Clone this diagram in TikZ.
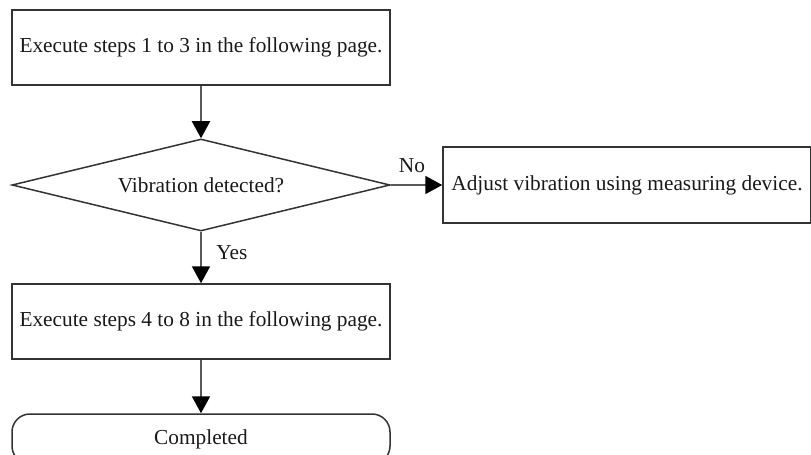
\documentclass[tikz,border=0pt]{standalone}
\usepackage{fontspec}
\setmainfont{Liberation Serif}
\usepackage{tikz}
\usetikzlibrary{shapes.geometric,arrows.meta}

\begin{document}
\begin{tikzpicture}[x=0.5pt, y=-0.5pt,
    font=\fontsize{10.66}{12.8}\selectfont, text=black!90,
    stepbox/.style={draw=black!80, line width=0.75pt, minimum width=189pt, minimum height=37.5pt, inner sep=0pt},
    askbox/.style={draw=black!80, line width=0.75pt, diamond, aspect=4, inner sep=0pt, minimum width=189pt, minimum height=46pt},
    endbox/.style={draw=black!80, line width=0.75pt, rounded corners=9pt, minimum width=189pt, minimum height=25pt, inner sep=0pt},
    flow/.style={draw=black!65, line width=1pt, -{Triangle[length=8.5pt, width=9pt, color=black]}}]
                    % 枠（画像の大きさ）
                    \useasboundingbox (0,0) rectangle (811,455);
                    % 手順の箱
                    \node[stepbox] (first) at (201,47.5) {Execute steps 1 to 3 in the following page.};
                    \node[askbox] (check) at (201,185) {Vibration detected?};
                    \node[stepbox, minimum width=184pt, minimum height=38pt] (adjust) at (627,185) {Adjust vibration using measuring device.};
                    \node[stepbox] (second) at (201,321.5) {Execute steps 4 to 8 in the following page.};
                    % 終了（下端は切れる）
                    \node[endbox] (done) at (201,439) {Completed};
                    % 縦の矢印
                    \foreach \a/\b in {first/check, check/second, second/done} {
                        \draw[flow] (\a) -- (\b);
                    }
                    % 横の矢印
                    \draw[flow] (check.east) -- (adjust.west);
                    % ラベル
                    \node (nolbl) at (412,166) {No};
                    \node (yeslbl) at (232,253) {Yes};
                \end{tikzpicture}
\end{document}
